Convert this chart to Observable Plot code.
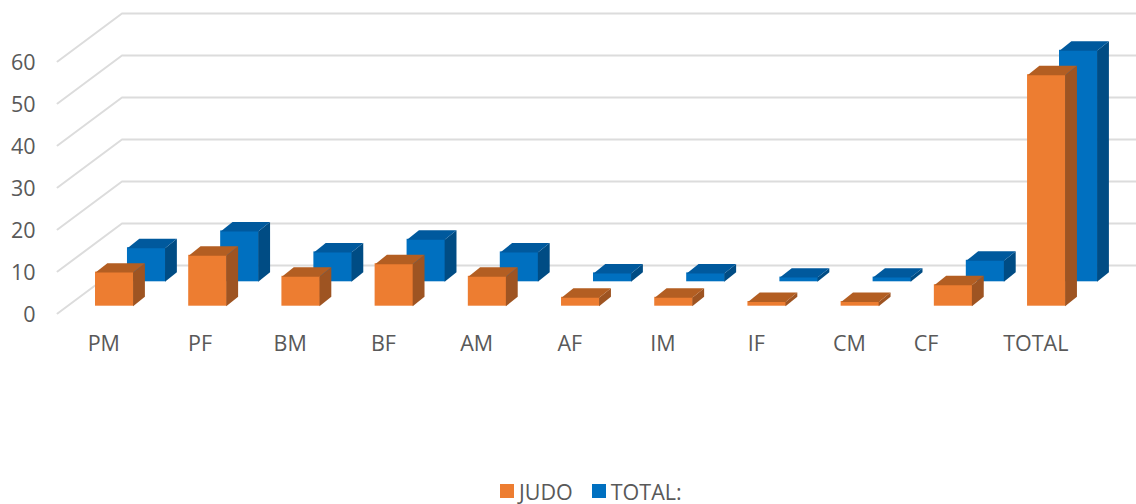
<!DOCTYPE html>
<html>
<head>
<meta charset="utf-8">
<script src="https://cdn.jsdelivr.net/npm/d3@7"></script>
<script src="https://cdn.jsdelivr.net/npm/@observablehq/plot@0.6"></script>
<style>
  html, body { margin: 0; padding: 0; background: #fff; overflow: hidden; }
  #chart svg { display: block; }
  #legend { display: flex; align-items: center; height: 28px; padding-left: 500px; padding-top: 3px;
            font: 21.5px "Open Sans", sans-serif; color: #595959; }
  #legend i { display: inline-block; width: 14px; height: 14px; margin-right: 5px; }
  #legend span { display: inline-flex; align-items: center; margin-right: 19px; }
</style>
</head>
<body>
<div id="chart"></div>
<div id="legend"></div>
<script>
const categories = ["PM", "PF", "BM", "BF", "AM", "AF", "IM", "IF", "CM", "CF", "TOTAL"];
const judo  = [8, 12, 7, 10, 7, 2, 2, 1, 1, 5, 55];
const total = [8, 12, 7, 10, 7, 2, 2, 1, 1, 5, 55];
const yTicks = [0, 10, 20, 30, 40, 50, 60];

// Series appearance
const seriesStyles = [
  {name: "TOTAL:", values: total, row: 1, front: "#0070C0", side: "#004C84", top: "#00599D"},
  {name: "JUDO",   values: judo,  row: 0, front: "#ED7D31", side: "#9E5422", top: "#B35E22"}
];

// Projection constants, in scale units (x: category steps, y: value units)
const barW = 0.403, depthX = 0.127, depthY = 2.25;
const rowX = 0.343, rowY = 5.81;
const wallFrontX = -0.4075, wallFrontY = -1.74, wallBackX = 0.284, wallBackY = 9.69, wallEndX = 11.2;
const labelNudge = {PF: 3, CF: -16.5};

const fronts = [], faces = [];
for (const s of seriesStyles) {
  s.values.forEach((v, i) => {
    const x0 = i + s.row * rowX, x1 = x0 + barW, y0 = s.row * rowY, y1 = y0 + v;
    fronts.push({x1: x0, x2: x1, y1: y0, y2: y1, fill: s.front});
    const side = [[x1, y0], [x1 + depthX, y0 + depthY], [x1 + depthX, y1 + depthY], [x1, y1]];
    const top = [[x0, y1], [x1, y1], [x1 + depthX, y1 + depthY], [x0 + depthX, y1 + depthY]];
    side.forEach(p => faces.push({id: `${s.name}-${i}-side`, x: p[0], y: p[1], fill: s.side, row: s.row}));
    top.forEach(p => faces.push({id: `${s.name}-${i}-top`, x: p[0], y: p[1], fill: s.top, row: s.row}));
  });
}
const facesOf = r => faces.filter(d => d.row === r);
const frontsOf = c => fronts.filter(d => d.fill === c);

const grid = yTicks.map(t => [
  {t, x: wallFrontX, y: wallFrontY + t},
  {t, x: wallBackX, y: wallBackY + t},
  {t, x: wallEndX, y: wallBackY + t}
]).flat();

const seriesMarks = s => [
  Plot.rect(frontsOf(s.front), {x1: "x1", x2: "x2", y1: "y1", y2: "y2", fill: "fill", insetRight: -1, insetLeft: 0, insetTop: -0.5}),
  Plot.line(facesOf(s.row), {x: "x", y: "y", z: "id", fill: "fill", stroke: "none"})
];

const plot = Plot.plot({
  width: 1136,
  height: 474,
  marginTop: 0, marginRight: 0, marginBottom: 0, marginLeft: 0,
  style: {background: "#fff", fontFamily: "'Open Sans', sans-serif"},
  x: {type: "linear", domain: [0, 11], range: [95, 1120.25], axis: null},
  y: {type: "linear", domain: [0, 60], range: [305.7, 53.7], axis: null},
  color: {type: "identity"},
  marks: [
    Plot.line(grid, {x: "x", y: "y", z: "t", stroke: "#DCDCDC", strokeWidth: 2, curve: "linear"}),
    ...seriesStyles.flatMap(seriesMarks),
    Plot.text(yTicks, {
      x: wallFrontX, y: d => d + wallFrontY, text: d => String(d), textAnchor: "end",
      dx: -22, dy: 2, fontSize: 21.5, fill: "#595959"
    }),
    Plot.text(categories, {
      x: (d, i) => i + barW / 2 + (labelNudge[d] || 0) / 93.2,
      y: 0, text: d => d, dx: -10.5, dy: 38, fontSize: 21.5, fill: "#595959"
    })
  ]
});
document.getElementById("chart").append(plot);

const legend = document.getElementById("legend");
for (const s of [...seriesStyles].reverse()) {
  const item = document.createElement("span");
  const sw = document.createElement("i");
  sw.style.background = s.front;
  item.append(sw, s.name);
  legend.append(item);
}
</script>
</body>
</html>
